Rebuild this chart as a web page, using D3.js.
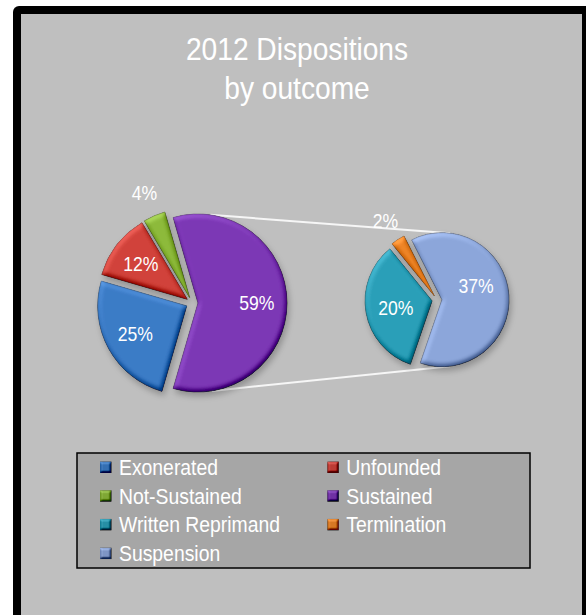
<!DOCTYPE html>
<html>
<head>
<meta charset="utf-8">
<script src="https://cdn.jsdelivr.net/npm/d3@7"></script>
<style>
  html, body { margin: 0; padding: 0; background: #ffffff; overflow: hidden; }
  svg { display: block; }
</style>
</head>
<body>
<svg id="chart" width="586" height="615"></svg>
<script>
// ---- data ----
const titleLines = ["2012 Dispositions", "by outcome"];

const outcomeCategories = ["Exonerated", "Unfounded", "Not-Sustained", "Sustained"];
const outcomeValues = [25, 12, 4, 59];

// breakdown of the "Sustained" slice
const sustainedCategories = ["Written Reprimand", "Termination", "Suspension"];
const sustainedValues = [20, 2, 37];

const legendLabels = ["Exonerated", "Unfounded", "Not-Sustained", "Sustained",
                      "Written Reprimand", "Termination", "Suspension"];
const legendColors = ["#3b7bc6", "#d1423a", "#8dba3b", "#7c37b5",
                      "#2b9fb8", "#ee8528", "#8ca6da"];

// ---- layout ----
const W = 586, H = 615;
const FONT = "'Liberation Sans', Arial, Helvetica, sans-serif";
const NARROW = 0.88;            // horizontal condensing of all text
const deg = Math.PI / 180;

const svg = d3.select("#chart");
const color = d3.scaleOrdinal().domain(legendLabels).range(legendColors);

// ---- filters ----
const defs = svg.append("defs");

const shadow = defs.append("filter").attr("id", "shadow")
  .attr("x", "-20%").attr("y", "-20%").attr("width", "140%").attr("height", "140%");
shadow.append("feGaussianBlur").attr("in", "SourceAlpha").attr("stdDeviation", 3);
shadow.append("feOffset").attr("dx", 2).attr("dy", 4).attr("result", "ob");
shadow.append("feFlood").attr("flood-color", "#000").attr("flood-opacity", 0.25);
shadow.append("feComposite").attr("in2", "ob").attr("operator", "in").attr("result", "sh");
const sm = shadow.append("feMerge");
sm.append("feMergeNode").attr("in", "sh");
sm.append("feMergeNode").attr("in", "SourceGraphic");

function bevelFilter(id, blur, scale, k3, k4) {
  const f = defs.append("filter").attr("id", id)
    .attr("x", "-15%").attr("y", "-15%").attr("width", "130%").attr("height", "130%")
    .attr("color-interpolation-filters", "sRGB");
  f.append("feGaussianBlur").attr("in", "SourceAlpha").attr("stdDeviation", blur).attr("result", "b");
  const l = f.append("feDiffuseLighting").attr("in", "b").attr("surfaceScale", scale)
    .attr("diffuseConstant", 0.653).attr("lighting-color", "#fff").attr("result", "l");
  l.append("feDistantLight").attr("azimuth", 240).attr("elevation", 50);
  f.append("feComposite").attr("in", "SourceGraphic").attr("in2", "l")
    .attr("operator", "arithmetic").attr("k1", 0).attr("k2", 1).attr("k3", k3).attr("k4", k4)
    .attr("result", "c");
  f.append("feComposite").attr("in", "c").attr("in2", "SourceAlpha").attr("operator", "in");
}
bevelFilter("bevel", 2.4, 3, 0.7, -0.35);
bevelFilter("bevelSmall", 1.0, 3, 0.9, -0.45);

// ---- frame & background ----
svg.append("rect").attr("x", 13).attr("y", 6).attr("width", W - 13 + 10).attr("height", H + 10)
  .attr("rx", 6).attr("fill", "#000");
svg.append("rect").attr("x", 21).attr("y", 14).attr("width", 582 - 21).attr("height", H)
  .attr("fill", "#bfbfbf");

// ---- title ----
const titleY = d3.scaleLinear().domain([0, 1]).range([60, 99]);
titleLines.forEach((t, i) => {
  svg.append("text")
    .attr("transform", `translate(297,${titleY(i)}) scale(${NARROW},1)`)
    .attr("text-anchor", "middle")
    .attr("font-family", FONT).attr("font-size", 32).attr("fill", "#ffffff")
    .text(t);
});

// ---- pies ----
const dir = a => [Math.sin(a), -Math.cos(a)];

const primary = { cx: 192, cy: 303, r: 89, explode: 6, focus: 90 * deg,
                  inFrac: 0.66, outFrac: 1.28, nudge: {} };
const secondary = { cx: 437, cy: 300, r: 67, explode: 5, focus: 86 * deg,
                    inFrac: 0.55, outFrac: 1.34, nudge: { "Suspension": -18 * deg } };

function layoutPie(names, values, o) {
  const total = d3.sum(values);
  const focusShare = values[values.length - 1] / total;
  const start = o.focus + focusShare * Math.PI;   // last slice centred on the focus angle
  const pie = d3.pie().sort(null).value(d => d.value)
    .startAngle(start).endAngle(start + 2 * Math.PI);
  return pie(names.map((n, i) => ({ name: n, value: values[i], share: values[i] / total })))
    .map(a => {
      const mid = (a.startAngle + a.endAngle) / 2;
      const [ux, uy] = dir(mid);
      a.mid = mid;
      a.vx = o.cx + o.explode * ux;
      a.vy = o.cy + o.explode * uy;
      return a;
    });
}

const primaryArcs = layoutPie(outcomeCategories, outcomeValues, primary);
const secondaryArcs = layoutPie(sustainedCategories, sustainedValues, secondary);

// connector lines between the Sustained slice and the breakdown pie
const pFocus = primaryArcs[primaryArcs.length - 1];
const sFocus = secondaryArcs[secondaryArcs.length - 1];
function onRim(a, o, ang) {
  const [ux, uy] = dir(ang * deg);
  return [a.vx + o.r * ux, a.vy + o.r * uy];
}
const connectors = [
  [onRim(pFocus, primary, 8), onRim(sFocus, secondary, 7)],
  [onRim(pFocus, primary, 171), onRim(sFocus, secondary, 173)]
];
svg.append("g").selectAll("line").data(connectors).join("line")
  .attr("x1", d => d[0][0]).attr("y1", d => d[0][1])
  .attr("x2", d => d[1][0]).attr("y2", d => d[1][1])
  .attr("stroke", "#f6f6f6").attr("stroke-width", 2);

function drawPie(arcs, o) {
  const arc = d3.arc().innerRadius(0).outerRadius(o.r);
  const g = svg.append("g").attr("filter", "url(#shadow)");
  g.selectAll("path").data(arcs).join("path")
    .attr("transform", d => `translate(${d.vx},${d.vy})`)
    .attr("d", arc)
    .attr("fill", d => color(d.data.name))
    .attr("stroke", d => d3.color(color(d.data.name)).darker(0.7))
    .attr("stroke-width", 0.8)
    .attr("filter", "url(#bevel)");

  svg.append("g").selectAll("text").data(arcs).join("text")
    .attr("transform", d => {
      const frac = d.data.share < 0.05 ? o.outFrac : o.inFrac;
      const ang = d.mid + (o.nudge[d.data.name] || 0);
      const [ux, uy] = dir(ang);
      return `translate(${d.vx + o.r * frac * ux},${d.vy + o.r * frac * uy}) scale(${NARROW},1)`;
    })
    .attr("text-anchor", "middle")
    .attr("dy", "0.36em")
    .attr("font-family", FONT).attr("font-size", 20).attr("fill", "#ffffff")
    .text(d => d.data.value + "%");
}
drawPie(primaryArcs, primary);
drawPie(secondaryArcs, secondary);

// ---- legend ----
const legend = svg.append("g");
legend.append("rect").attr("x", 77).attr("y", 453).attr("width", 453).attr("height", 115)
  .attr("fill", "#a6a6a6").attr("stroke", "#000").attr("stroke-width", 1.5);

const colX = d3.scaleOrdinal().domain([0, 1]).range([100, 327.3]);
const rowY = d3.scaleLinear().domain([0, 1]).range([475, 503.7]);

const items = legend.selectAll("g.item").data(legendLabels).join("g").attr("class", "item")
  .attr("transform", (d, i) => `translate(${colX(i % 2)},${rowY(Math.floor(i / 2))})`);
items.append("rect")
  .attr("x", 0).attr("y", -13.5).attr("width", 11.5).attr("height", 11.5)
  .attr("fill", d => d3.color(color(d)).darker(0.3))
  .attr("filter", "url(#bevelSmall)");
items.append("text")
  .attr("transform", `translate(19,0) scale(${NARROW},1)`)
  .attr("font-family", FONT).attr("font-size", 22).attr("fill", "#ffffff")
  .text(d => d);
</script>
</body>
</html>
